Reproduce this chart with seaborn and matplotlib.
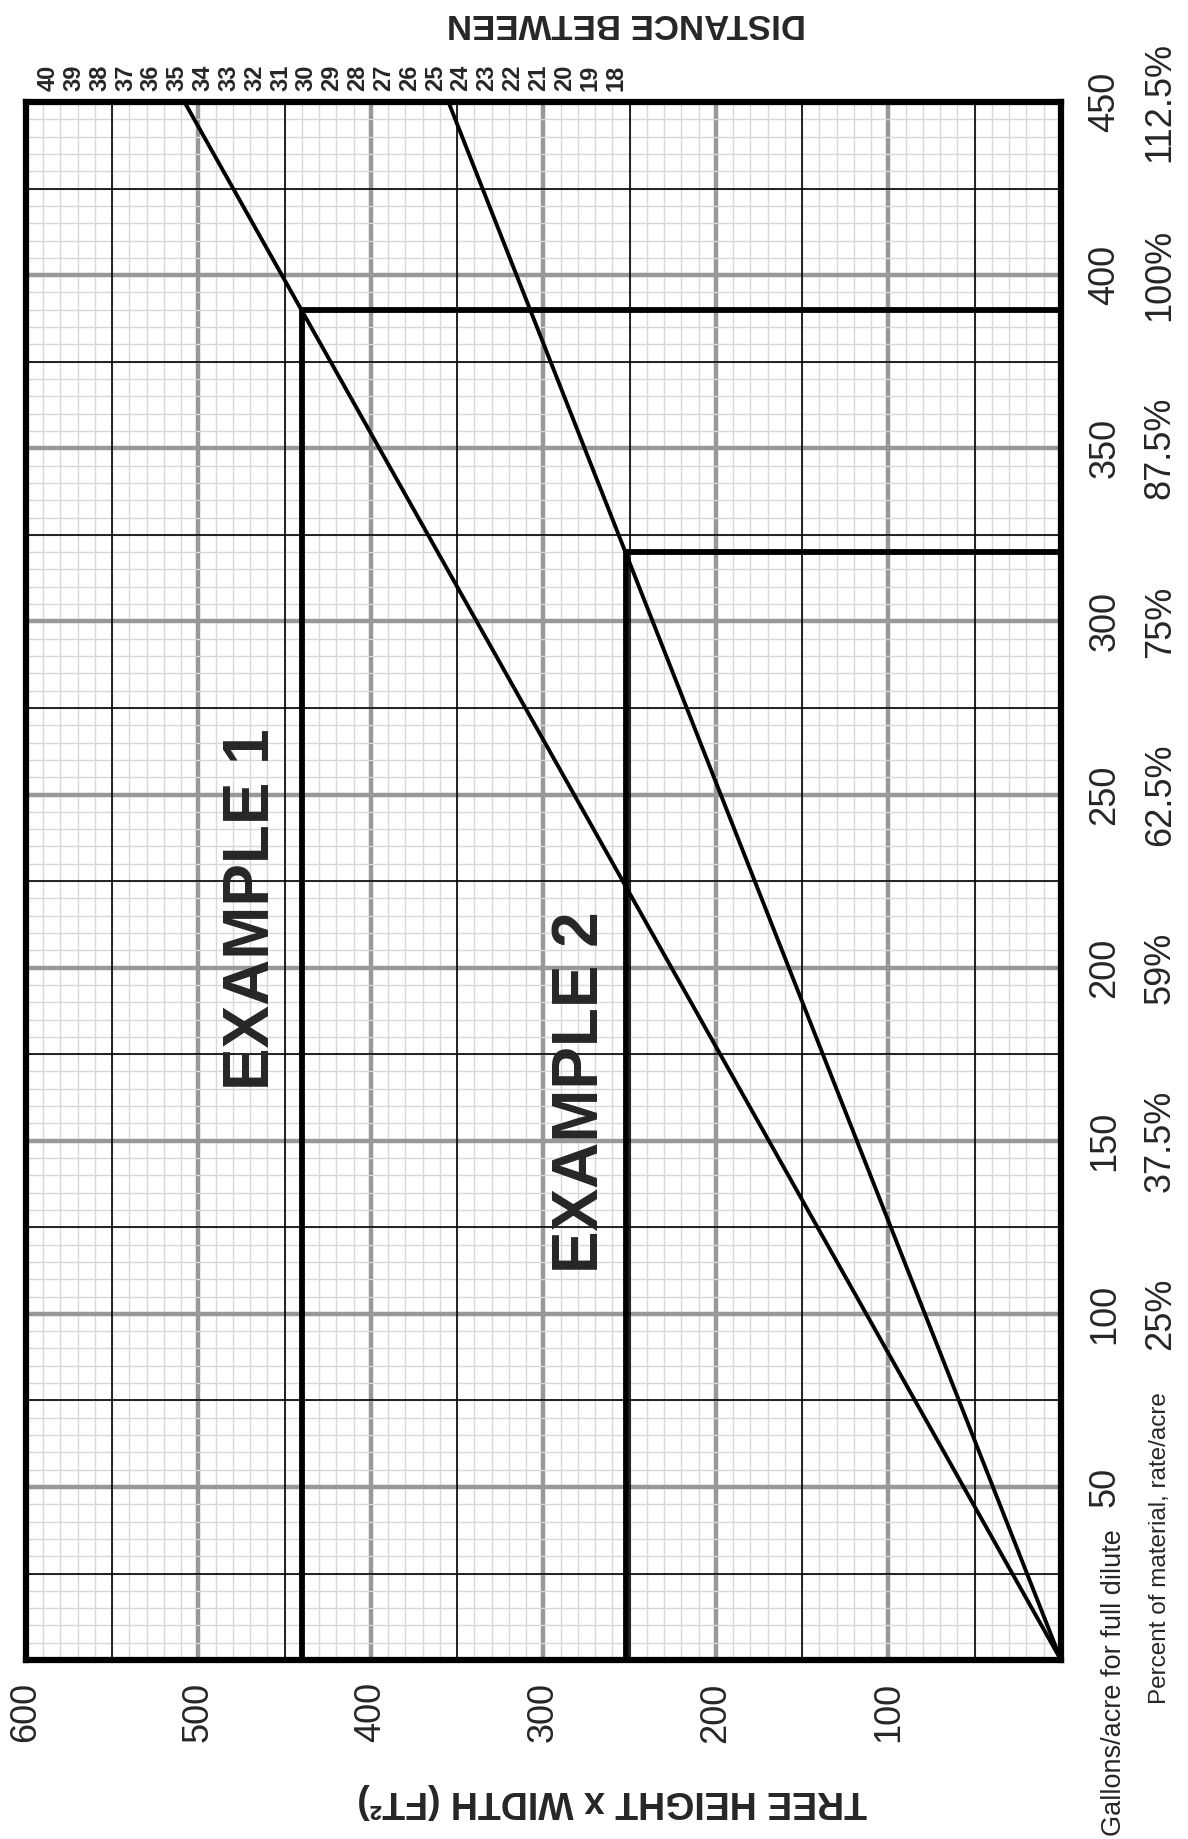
import numpy as np
import pandas as pd
import seaborn as sns
import matplotlib.pyplot as plt
from matplotlib.ticker import MultipleLocator

hw_ticks = [600, 500, 400, 300, 200, 100]            # tree height x width (ft2)
gal_ticks = [50, 100, 150, 200, 250, 300, 350, 400, 450]  # gallons/acre
pct_labels = ["", "25%", "37.5%", "59%", "62.5%", "75%", "87.5%", "100%", "112.5%"]
dist_labels = list(range(18, 41))                    # distance between rows (ft)
dist_ref = [18, 40]                                  # top scale calibration
dist_ref_hw = [258, 587]

# rate lines through the origin
line_a_hw = [0, 508]
line_a_gal = [0, 450]
line_b_hw = [0, 355]
line_b_gal = [0, 450]

# worked examples
ex1_hw = [440, 440, 0]
ex1_gal = [0, 390, 390]
ex2_hw = [252, 252, 2]
ex2_gal = [0, 320, 320]

lines_df = pd.concat([
    pd.DataFrame({"hw": line_a_hw, "gal": line_a_gal, "line": "a"}),
    pd.DataFrame({"hw": line_b_hw, "gal": line_b_gal, "line": "b"}),
])
examples_df = pd.concat([
    pd.DataFrame({"hw": ex1_hw, "gal": ex1_gal, "ex": "1"}),
    pd.DataFrame({"hw": ex2_hw, "gal": ex2_gal, "ex": "2"}),
])

sns.set_style("white")
plt.rcParams["font.family"] = ["Liberation Sans", "DejaVu Sans"]

fig = plt.figure(figsize=(11.88, 18.39), dpi=100)
ax = fig.add_axes([0.0217, 0.0973, 0.8714, 0.8472])

ax.set_xlim(600, 0)
ax.set_ylim(0, 450)

# grid: light minor, grey major, black half-steps
ax.set_xticks(hw_ticks)
ax.set_yticks(gal_ticks)
ax.xaxis.set_minor_locator(MultipleLocator(10))
ax.yaxis.set_minor_locator(MultipleLocator(5))
ax.set_axisbelow(True)
ax.grid(which="minor", color="#d8d8d8", lw=1.0)
ax.grid(which="major", color="#98989b", lw=3.2)
ax.vlines(np.arange(50, 600, 100), 0, 450, color="black", lw=1.2, zorder=1.5)
ax.hlines(np.arange(25, 450, 50), 0, 600, color="black", lw=1.2, zorder=1.5)

sns.lineplot(data=lines_df, x="hw", y="gal", units="line", estimator=None,
             color="black", lw=2.8, ax=ax, legend=False)
sns.lineplot(data=examples_df, x="hw", y="gal", units="ex", estimator=None,
             sort=False, color="black", lw=4.2, ax=ax, legend=False)

for s in ax.spines.values():
    s.set_visible(True)
    s.set_linewidth(4.5)
    s.set_color("black")

ax.set_xlabel("")
ax.set_ylabel("")

# bottom scale
ax.set_xticklabels([str(v) for v in hw_ticks], rotation=90, fontsize=26)
ax.tick_params(axis="x", which="both", length=0, pad=16)

# right scale
ax.yaxis.tick_right()
right_labels = [f"{g}\n{p}" if p else str(g) for g, p in zip(gal_ticks, pct_labels)]
ax.set_yticklabels(right_labels, rotation=90, fontsize=26, va="center",
                   ha="left", linespacing=1.75, multialignment="center")
ax.tick_params(axis="y", which="both", length=0, pad=19)

# top distance scale
slope = (dist_ref[1] - dist_ref[0]) / (dist_ref_hw[1] - dist_ref_hw[0])


def hw_to_dist(hw):
    return dist_ref[0] + (np.asarray(hw) - dist_ref_hw[0]) * slope


def dist_to_hw(d):
    return dist_ref_hw[0] + (np.asarray(d) - dist_ref[0]) / slope


sec = ax.secondary_xaxis("top", functions=(hw_to_dist, dist_to_hw))
sec.set_xticks(dist_labels)
sec.set_xticklabels([str(d) for d in dist_labels], rotation=90,
                    fontsize=17, fontweight="bold")
sec.tick_params(length=0, pad=8)
sec.spines["top"].set_visible(False)

# example labels
ax.text(469, 217, "EXAMPLE 1", rotation=90, fontsize=46, fontweight="bold",
        ha="center", va="center")
ax.text(278, 164, "EXAMPLE 2", rotation=90, fontsize=46, fontweight="bold",
        ha="center", va="center")

# titles
fig.text(626 / 1188, 1 - 24 / 1839, "DISTANCE BETWEEN", rotation=180,
         fontsize=25, fontweight="bold", ha="center", va="center")
fig.text(612 / 1188, 1 - 1801 / 1839, "TREE HEIGHT x WIDTH (FT²)", rotation=180,
         fontsize=27, fontweight="bold", ha="center", va="center")
fig.text(1114 / 1188, 1 - 1683 / 1839, "Gallons/acre for full dilute",
         rotation=90, fontsize=19.5, ha="center", va="center")
fig.text(1160 / 1188, 1 - 1548 / 1839, "Percent of material, rate/acre",
         rotation=90, fontsize=17.5, ha="center", va="center")

fig.savefig("out.png", dpi=100)
